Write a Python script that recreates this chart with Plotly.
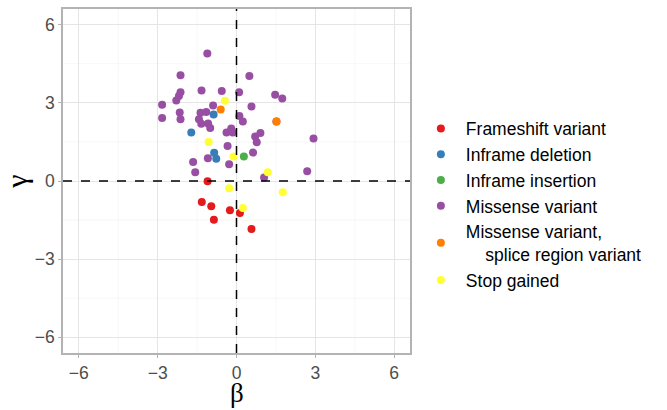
import plotly.graph_objects as go

categories = ["Frameshift variant", "Inframe deletion", "Inframe insertion",
              "Missense variant", "Missense variant,<br>&nbsp;&nbsp;&nbsp;&nbsp;splice region variant",
              "Stop gained"]
colors = ["#E41A1C", "#377EB8", "#4DAF4A", "#984EA3", "#FF7F00", "#FFFF33"]

frameshift_beta = [-1.10, -1.32, -0.96, -0.86, -0.25, 0.13, 0.57]
frameshift_gamma = [-0.01, -0.81, -0.97, -1.49, -1.12, -1.23, -1.84]

inframe_del_beta = [-0.87, -1.72, -0.85, -0.77]
inframe_del_gamma = [2.55, 1.86, 1.08, 0.85]

inframe_ins_beta = [0.28]
inframe_ins_gamma = [0.94]

missense_beta = [-1.11, -2.13, -2.13, -2.19, -2.29, -1.33, -0.56, -2.83, -2.83, -2.16,
                 -2.13, -0.89, -1.37, -1.15, -1.43, -1.34, -1.08, -1.00, -0.38, -0.20,
                 -0.14, 0.11, -0.34, -1.09, -0.28, -1.65, -1.57, 0.49, 0.10, 1.47,
                 1.74, 0.57, 0.24, 1.52, 0.71, 0.91, 0.77, 2.93, 0.63, 2.69, 1.05]
missense_gamma = [4.89, 4.06, 3.41, 3.26, 3.09, 3.47, 3.45, 2.93, 2.42, 2.63,
                  2.37, 2.90, 2.62, 2.65, 2.37, 2.20, 2.21, 2.03, 1.86, 2.01,
                  1.86, 2.49, 1.34, 0.87, 0.64, 0.73, 0.34, 4.03, 3.41, 3.31,
                  3.17, 2.86, 2.28, 2.28, 1.71, 1.84, 1.49, 1.63, 1.09, 0.37, 0.13]

splice_beta = [-0.60, 1.52]
splice_gamma = [2.74, 2.28]

stop_beta = [-0.44, -1.06, -0.11, 1.19, 1.76, -0.28, 0.24]
stop_gamma = [3.08, 1.50, 0.94, 0.34, -0.43, -0.28, -1.04]

betas = [frameshift_beta, inframe_del_beta, inframe_ins_beta, missense_beta, splice_beta, stop_beta]
gammas = [frameshift_gamma, inframe_del_gamma, inframe_ins_gamma, missense_gamma, splice_gamma, stop_gamma]

x_ticks = [-6, -3, 0, 3, 6]
y_ticks = [-6, -3, 0, 3, 6]

fig = go.Figure()
for name, col, b, g in zip(categories, colors, betas, gammas):
    fig.add_trace(go.Scatter(x=b, y=g, mode="markers", name=name,
                             marker=dict(color=col, size=8, line=dict(width=0))))

# minor gridlines
for v in [-4.5, -1.5, 1.5, 4.5]:
    fig.add_shape(type="line", xref="x", yref="paper", x0=v, x1=v, y0=0, y1=1,
                  line=dict(color="#F2F2F2", width=0.6), layer="below")
    fig.add_shape(type="line", xref="paper", yref="y", x0=0, x1=1, y0=v, y1=v,
                  line=dict(color="#F2F2F2", width=0.6), layer="below")

fig.add_vline(x=0, line=dict(color="black", width=1.5, dash="dash"))
fig.add_hline(y=0, line=dict(color="black", width=1.5, dash="dash"))

axis_common = dict(range=[-6.6, 6.6], showgrid=True, gridcolor="#E5E5E5", gridwidth=1,
                   zeroline=False, showline=True, linecolor="#B3B3B3", linewidth=1.5,
                   mirror=True, ticks="outside", ticklen=3, tickcolor="#B3B3B3",
                   automargin=False,
                   tickfont=dict(family="Liberation Sans, Arial", size=17.5, color="#4D4D4D"))

fig.update_xaxes(tickvals=x_ticks, ticktext=[str(t).replace("-", "−") for t in x_ticks],
                 **axis_common)
fig.update_yaxes(tickvals=y_ticks, ticktext=[str(t).replace("-", "−") for t in y_ticks],
                 title=dict(text="γ", font=dict(family="Liberation Serif, Times New Roman", size=30, color="black"), standoff=4),
                 **axis_common)

# x-axis title placed at the bottom edge, centred on the panel
fig.add_annotation(text="β", xref="paper", x=0.5, xanchor="center",
                   yref="paper", y=-0.163, yanchor="bottom", showarrow=False,
                   borderpad=0,
                   font=dict(family="Liberation Serif, Times New Roman", size=27, color="black"))

fig.update_layout(
    width=667, height=410,
    margin=dict(l=63, r=257, t=9, b=57, autoexpand=False),
    plot_bgcolor="white", paper_bgcolor="white",
    showlegend=True,
    legend=dict(xref="container", yref="container", x=0.6235, xanchor="left",
                y=0.501, yanchor="middle",
                font=dict(family="Liberation Sans, Arial", size=17.5, color="black"),
                tracegroupgap=0, itemsizing="trace", itemwidth=40,
                bgcolor="rgba(0,0,0,0)"),
)

fig.write_html("out.html")
